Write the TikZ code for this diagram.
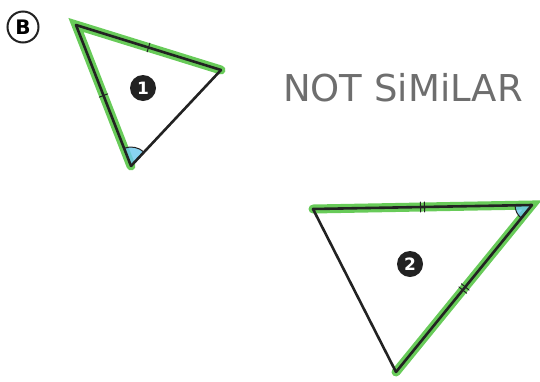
\documentclass[tikz,border=0pt]{standalone}
\usepackage{fontspec}
\setsansfont{DejaVu Sans}
\usetikzlibrary{calc,angles,decorations.markings}
\usepackage{xcolor}
\definecolor{Marker}{HTML}{4DC23C}
\definecolor{Pencil}{HTML}{222222}
\definecolor{Graphite}{HTML}{6E6E6E}
\definecolor{AngleBlue}{HTML}{6CC8EE}

\tikzset{
  side/.style={Pencil, line width=2.6pt, line join=round, line cap=round},
  hilite/.style={Marker, line width=9pt, line cap=round, opacity=0.85},
  onetick/.style={postaction={decorate, decoration={markings,
    mark=at position 0.5 with {\draw[Pencil, line width=1pt] (0,-4.5pt) -- (0,4.5pt);}}}},
  twotick/.style={postaction={decorate, decoration={markings,
    mark=at position 0.5 with {\draw[Pencil, line width=1pt] (-2pt,-5pt) -- (-2pt,5pt) (2pt,-5pt) -- (2pt,5pt);}}}},
  numdot/.style={circle, fill=Pencil, text=white, inner sep=0pt, minimum size=26pt,
    font=\sffamily\bfseries\fontsize{17}{17}\selectfont},
  anglemark/.style={draw=Pencil, line width=1pt, fill=AngleBlue, fill opacity=0.8}
}

\begin{document}
\begin{tikzpicture}[x=1pt, y=-1pt]
  \useasboundingbox (0,0) rectangle (540,381);
  % corners of triangle 1
  \coordinate (a1) at (76,25);
  \coordinate (b1) at (221,70);
  \coordinate (c1) at (131,166);
  % corners of triangle 2
  \coordinate (a2) at (313,209);
  \coordinate (b2) at (532,205);
  \coordinate (c2) at (396,372);
  % part label
  \node[circle, draw=Pencil, line width=2pt, minimum size=31pt, inner sep=0pt,
    font=\sffamily\bfseries\fontsize{20}{20}\selectfont] (part) at (23,27) {B};
  % green marker along the equal sides
  \draw[hilite] (b1) -- (a1) -- (c1);
  \draw[hilite] (a2) -- (b2) -- (c2);
  % marked angles
  \pic[anglemark, angle radius=19pt] {angle = b1--c1--a1};
  \pic[anglemark, angle radius=17pt] {angle = a2--b2--c2};
  % triangle 1
  \draw[side, onetick] (a1) -- (b1);
  \draw[side, onetick] (a1) -- (c1);
  \draw[side] (b1) -- (c1);
  % triangle 2
  \draw[side, twotick] (a2) -- (b2);
  \draw[side, twotick] (b2) -- (c2);
  \draw[side] (c2) -- (a2);
  % numbers
  \node[numdot] (one) at (143,88) {1};
  \node[numdot] (two) at (410,264) {2};
  % verdict
  \node[Graphite, font=\sffamily\fontsize{37}{37}\selectfont] (verdict)
    at (403,88) {NOT SiMiLAR};
\end{tikzpicture}
\end{document}
